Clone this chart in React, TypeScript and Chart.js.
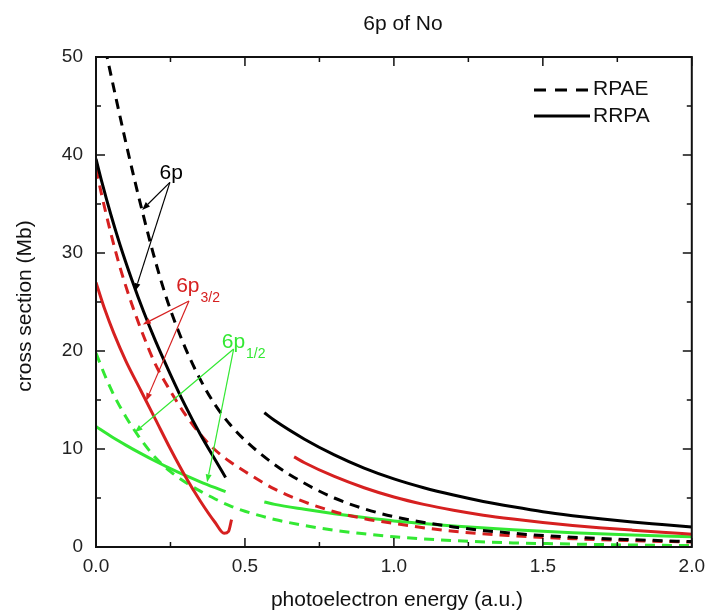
import React, { useEffect, useRef } from 'react';
import { Chart, registerables } from 'chart.js';

Chart.register(...registerables);

// ---------- data (photoelectron energy in a.u., cross section in Mb) ----------
const xTickStep = 0.5;
const yTickStep = 10;

// 6p total, RPAE (dashed black)
const p6RpaeX = [0.02, 0.04, 0.07, 0.1, 0.13, 0.16, 0.19, 0.22, 0.25, 0.3, 0.35, 0.4, 0.45, 0.5, 0.6, 0.7, 0.8, 0.9, 1.0, 1.2, 1.4, 1.6, 1.8, 2.0];
const p6RpaeY = [52.5, 49.6, 45.4, 41.3, 37.4, 33.7, 30.2, 27.0, 24.2, 20.3, 17.1, 14.5, 12.5, 10.9, 8.4, 6.5, 5.0, 3.9, 3.1, 2.05, 1.4, 1.0, 0.75, 0.55];

// 6p total, RRPA (solid black) - below and above the 6p1/2 threshold region
const p6RrpaLowX = [0, 0.02, 0.05, 0.08, 0.12, 0.16, 0.2, 0.25, 0.3, 0.35, 0.4, 0.435];
const p6RrpaLowY = [39.6, 37.2, 33.9, 30.9, 27.3, 24.0, 21.0, 17.6, 14.4, 11.5, 8.9, 7.1];
const p6RrpaHighX = [0.565, 0.6, 0.7, 0.8, 0.9, 1.0, 1.1, 1.2, 1.3, 1.4, 1.5, 1.6, 1.7, 1.8, 1.9, 2.0];
const p6RrpaHighY = [13.7, 12.9, 11.0, 9.4, 8.05, 6.95, 6.05, 5.3, 4.65, 4.1, 3.6, 3.2, 2.85, 2.55, 2.3, 2.05];

// 6p3/2, RPAE (dashed red)
const p32RpaeX = [0, 0.02, 0.05, 0.08, 0.12, 0.16, 0.2, 0.25, 0.3, 0.35, 0.4, 0.45, 0.5, 0.6, 0.7, 0.8, 0.9, 1.0, 1.2, 1.4, 1.6, 1.8, 2.0];
const p32RpaeY = [38.6, 35.8, 32.0, 28.6, 24.8, 21.5, 18.6, 15.9, 13.5, 11.5, 9.9, 8.7, 7.7, 5.9, 4.6, 3.6, 2.9, 2.4, 1.6, 1.15, 0.85, 0.65, 0.5];

// 6p3/2, RRPA (solid red)
const p32RrpaLowX = [0, 0.03, 0.06, 0.1, 0.15, 0.2, 0.25, 0.3, 0.35, 0.4, 0.43, 0.445, 0.455];
const p32RrpaLowY = [27.0, 24.2, 21.8, 19.0, 16.0, 13.0, 10.0, 7.2, 4.7, 2.5, 1.4, 1.6, 2.8];
const p32RrpaHighX = [0.665, 0.7, 0.8, 0.9, 1.0, 1.1, 1.2, 1.3, 1.4, 1.5, 1.6, 1.7, 1.8, 1.9, 2.0];
const p32RrpaHighY = [9.2, 8.6, 7.2, 6.05, 5.1, 4.35, 3.75, 3.25, 2.85, 2.5, 2.2, 1.95, 1.72, 1.5, 1.3];

// 6p1/2, RPAE (dashed green)
const p12RpaeX = [0, 0.03, 0.06, 0.1, 0.15, 0.2, 0.25, 0.3, 0.35, 0.4, 0.45, 0.5, 0.6, 0.7, 0.8, 0.9, 1.0, 1.2, 1.4, 1.6, 1.8, 2.0];
const p12RpaeY = [19.8, 17.5, 15.5, 13.3, 11.0, 9.1, 7.7, 6.6, 5.7, 4.9, 4.2, 3.65, 2.8, 2.2, 1.7, 1.35, 1.05, 0.65, 0.42, 0.3, 0.2, 0.15];

// 6p1/2, RRPA (solid green)
const p12RrpaLowX = [0, 0.05, 0.1, 0.15, 0.2, 0.25, 0.3, 0.35, 0.4, 0.435];
const p12RrpaLowY = [12.3, 11.3, 10.4, 9.55, 8.75, 8.0, 7.3, 6.65, 6.05, 5.65];
const p12RrpaHighX = [0.565, 0.6, 0.7, 0.8, 0.9, 1.0, 1.2, 1.4, 1.6, 1.8, 2.0];
const p12RrpaHighY = [4.6, 4.35, 3.85, 3.4, 3.0, 2.65, 2.15, 1.75, 1.45, 1.22, 1.05];

const legendLabels = ['RPAE', 'RRPA'];

// ---------- styles ----------
const FONT = '"Liberation Sans", Arial, Helvetica, sans-serif';
const BLACK = '#000000';
const RED = '#d62020';
const GREEN = '#33e833';
const DASH = [10, 7];

// annotation labels & arrows (in data coordinates)
const annotations = [
  { main: '6p', sub: '', color: BLACK, at: [0.213, 37.6], tail: [0.248, 37.2], heads: [[0.155, 34.4], [0.131, 26.1]] },
  { main: '6p', sub: '3/2', color: RED, at: [0.269, 26.0], tail: [0.312, 25.1], heads: [[0.157, 22.7], [0.168, 14.9]] },
  { main: '6p', sub: '1/2', color: GREEN, at: [0.422, 20.3], tail: [0.462, 20.2], heads: [[0.13, 11.7], [0.373, 6.6]] },
];

const zip = (xs: number[], ys: number[]) => xs.map((x, i) => ({ x, y: ys[i] }));

function mkSet(xs: number[], ys: number[], color: string, dashed: boolean) {
  return {
    data: zip(xs, ys),
    borderColor: color,
    backgroundColor: color,
    borderWidth: 3,
    borderDash: dashed ? DASH : [],
    pointRadius: 0,
    fill: false,
    cubicInterpolationMode: 'monotone' as const,
  };
}

const overlay = {
  id: 'overlay',
  afterDraw(chart: any) {
    const { ctx, chartArea: a, scales } = chart;
    const xs = scales.x;
    const ys = scales.y;
    ctx.save();

    // inward tick marks
    ctx.strokeStyle = '#111';
    ctx.lineWidth = 1.5;
    ctx.setLineDash([]);
    for (let i = 0; i <= 8; i++) {
      const v = i * 0.25;
      const px = xs.getPixelForValue(v);
      const L = i % 2 === 0 ? 9 : 5;
      ctx.beginPath();
      ctx.moveTo(px, a.bottom);
      ctx.lineTo(px, a.bottom - L);
      ctx.moveTo(px, a.top);
      ctx.lineTo(px, a.top + L);
      ctx.stroke();
    }
    for (let i = 0; i <= 10; i++) {
      const v = i * 5;
      const py = ys.getPixelForValue(v);
      const L = i % 2 === 0 ? 9 : 5;
      ctx.beginPath();
      ctx.moveTo(a.left, py);
      ctx.lineTo(a.left + L, py);
      ctx.moveTo(a.right, py);
      ctx.lineTo(a.right - L, py);
      ctx.stroke();
    }
    // frame
    ctx.lineWidth = 2;
    ctx.strokeStyle = '#111';
    ctx.strokeRect(a.left, a.top, a.width, a.height);

    // title
    ctx.fillStyle = '#111';
    ctx.font = `21px ${FONT}`;
    ctx.textAlign = 'center';
    ctx.textBaseline = 'alphabetic';
    ctx.fillText('6p of No', 403, 30);

    // x axis title
    ctx.font = `21px ${FONT}`;
    ctx.fillText('photoelectron energy (a.u.)', 397, 606);

    // y axis title
    ctx.save();
    ctx.translate(31, 306);
    ctx.rotate(-Math.PI / 2);
    ctx.textAlign = 'center';
    ctx.textBaseline = 'alphabetic';
    ctx.fillText('cross section (Mb)', 0, 0);
    ctx.restore();

    // legend
    ctx.strokeStyle = BLACK;
    ctx.lineWidth = 3;
    ctx.setLineDash([12, 9]);
    ctx.beginPath();
    ctx.moveTo(534, 90);
    ctx.lineTo(591, 90);
    ctx.stroke();
    ctx.setLineDash([]);
    ctx.beginPath();
    ctx.moveTo(534, 116);
    ctx.lineTo(590, 116);
    ctx.stroke();
    ctx.font = `21px ${FONT}`;
    ctx.textAlign = 'left';
    ctx.textBaseline = 'middle';
    ctx.fillStyle = '#111';
    ctx.fillText(legendLabels[0], 593, 89);
    ctx.fillText(legendLabels[1], 593, 116);

    // annotations
    for (const an of annotations) {
      const lx = xs.getPixelForValue(an.at[0]);
      const ly = ys.getPixelForValue(an.at[1]);
      ctx.fillStyle = an.color;
      ctx.strokeStyle = an.color;
      ctx.textAlign = 'left';
      ctx.textBaseline = 'alphabetic';
      ctx.font = `21px ${FONT}`;
      ctx.fillText(an.main, lx, ly);
      if (an.sub) {
        const w = ctx.measureText(an.main).width;
        ctx.font = `14px ${FONT}`;
        ctx.fillText(an.sub, lx + w + 1, ly + 10);
      }
      const tx = xs.getPixelForValue(an.tail[0]);
      const ty = ys.getPixelForValue(an.tail[1]);
      ctx.lineWidth = 1.2;
      for (const h of an.heads) {
        const hx = xs.getPixelForValue(h[0]);
        const hy = ys.getPixelForValue(h[1]);
        const ang = Math.atan2(hy - ty, hx - tx);
        const len = 8;
        const hw = 3;
        const bx = hx - len * Math.cos(ang);
        const by = hy - len * Math.sin(ang);
        ctx.beginPath();
        ctx.moveTo(tx, ty);
        ctx.lineTo(bx, by);
        ctx.stroke();
        ctx.beginPath();
        ctx.moveTo(hx, hy);
        ctx.lineTo(bx + hw * Math.sin(ang), by - hw * Math.cos(ang));
        ctx.lineTo(bx - hw * Math.sin(ang), by + hw * Math.cos(ang));
        ctx.closePath();
        ctx.fill();
      }
    }
    ctx.restore();
  },
};

export default function App() {
  const ref = useRef<HTMLCanvasElement | null>(null);

  useEffect(() => {
    if (!ref.current) return;
    const chart = new Chart(ref.current, {
      type: 'line',
      data: {
        datasets: [
          mkSet(p6RpaeX, p6RpaeY, BLACK, true),
          mkSet(p6RrpaLowX, p6RrpaLowY, BLACK, false),
          mkSet(p6RrpaHighX, p6RrpaHighY, BLACK, false),
          mkSet(p32RpaeX, p32RpaeY, RED, true),
          mkSet(p32RrpaLowX, p32RrpaLowY, RED, false),
          mkSet(p32RrpaHighX, p32RrpaHighY, RED, false),
          mkSet(p12RpaeX, p12RpaeY, GREEN, true),
          mkSet(p12RrpaLowX, p12RrpaLowY, GREEN, false),
          mkSet(p12RrpaHighX, p12RrpaHighY, GREEN, false),
        ] as any,
      },
      options: {
        animation: false,
        responsive: false,
        devicePixelRatio: 1,
        layout: { padding: { top: 57, right: 15, left: 0, bottom: 0 } },
        plugins: { legend: { display: false }, tooltip: { enabled: false }, title: { display: false } },
        scales: {
          x: {
            type: 'linear',
            min: 0,
            max: 2,
            grid: { display: false, drawTicks: false },
            border: { display: false },
            ticks: {
              stepSize: xTickStep,
              padding: 8,
              color: '#222',
              font: { family: FONT, size: 19 },
              maxRotation: 0,
              autoSkip: false,
              callback: (v: any) => Number(v).toFixed(1),
            },
            afterFit: (s: any) => { s.height = 68; },
          },
          y: {
            type: 'linear',
            min: 0,
            max: 50,
            grid: { display: false, drawTicks: false },
            border: { display: false },
            ticks: {
              stepSize: yTickStep,
              padding: 13,
              color: '#222',
              font: { family: FONT, size: 19 },
              callback: (v: any) => String(v),
            },
            afterFit: (s: any) => { s.width = 96; },
          },
        },
      },
      plugins: [overlay],
    } as any);
    return () => chart.destroy();
  }, []);

  return (
    <div style={{ position: 'absolute', left: 0, top: 0, width: 713, height: 615, background: '#fff' }}>
      <canvas ref={ref} width={713} height={615} style={{ display: 'block', width: 713, height: 615 }} />
    </div>
  );
}
